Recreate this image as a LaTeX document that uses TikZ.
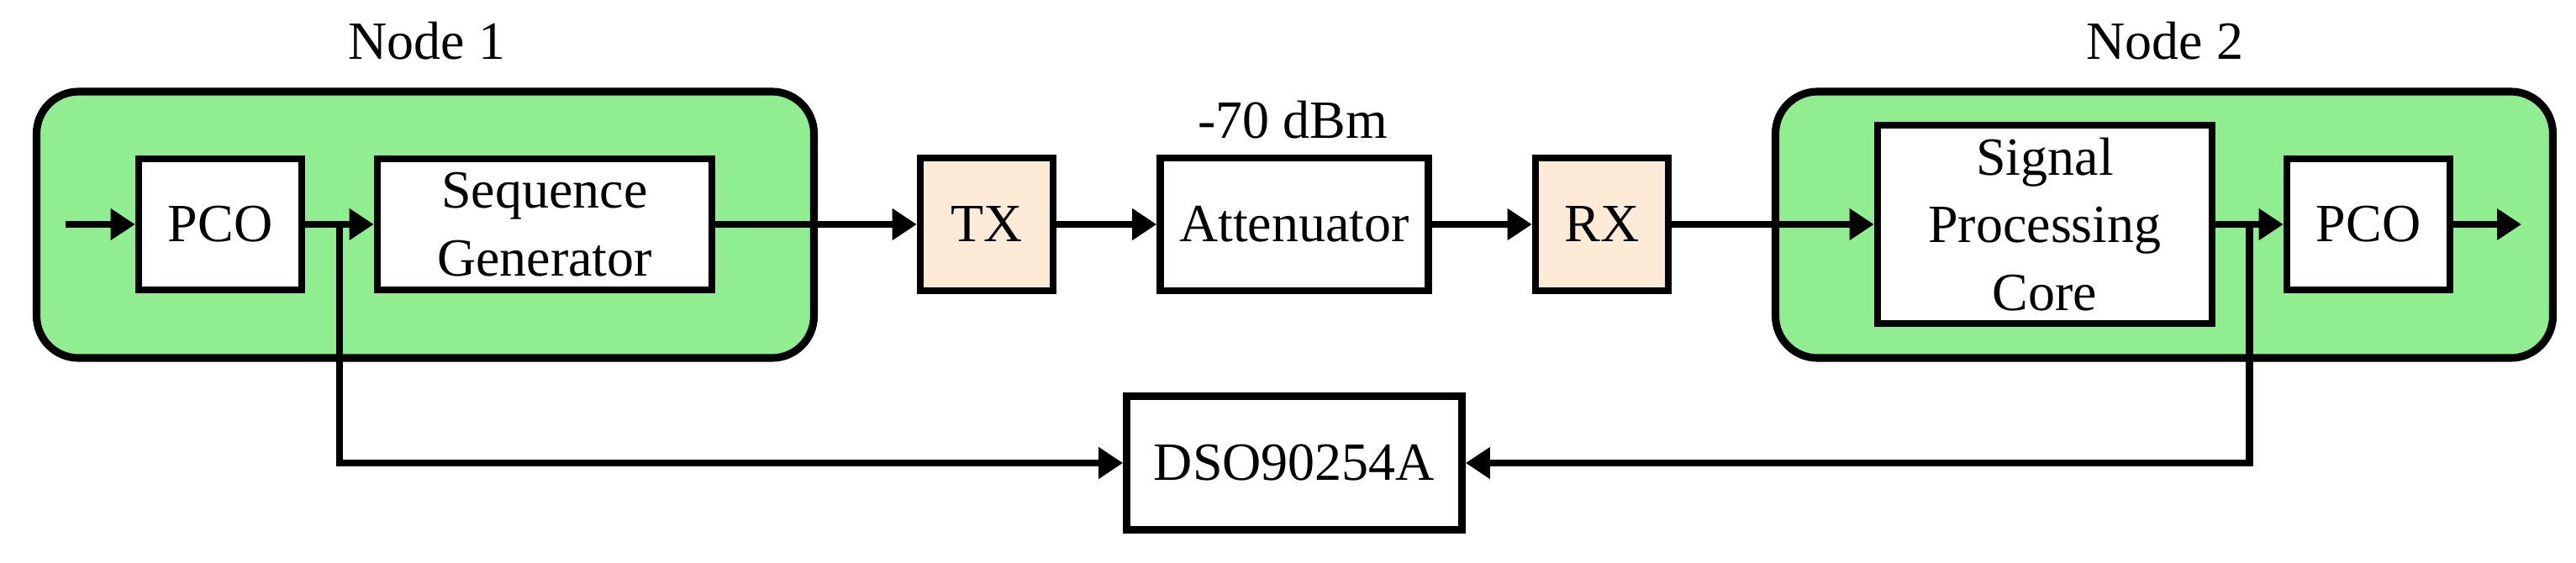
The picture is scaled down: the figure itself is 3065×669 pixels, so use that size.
\documentclass[tikz,border=0pt]{standalone}
\usepackage{fontspec}
\setmainfont{Liberation Serif}
\usetikzlibrary{arrows.meta,calc}
\definecolor{grpgreen}{HTML}{90EE90}
\definecolor{peach}{HTML}{FDEBD8}
\begin{document}
\begin{tikzpicture}[x=0.01cm,y=-0.01cm,
  every node/.style={font=\fontsize{18.2}{23}\selectfont},
  blk/.style={draw,line width=2.4pt,fill=white,align=center,inner sep=0pt},
  grpbox/.style={draw,line width=2.6pt,fill=grpgreen,rounded corners=0.5cm,inner sep=0pt},
  wire/.style={line width=2.5pt},
  conn/.style={wire,-{Triangle[length=0.29cm,width=0.36cm]}}]
\useasboundingbox (0,0) rectangle (3065,669);
% groups
\node[grpbox,minimum width=925*0.01cm,minimum height=317*0.01cm] (g1) at (506,267.5) {};
\node[grpbox,minimum width=925*0.01cm,minimum height=317*0.01cm] (g2) at (2575,267.5) {};
\node[anchor=base] (l1) at (508,70) {Node 1};
\node[anchor=base] (l2) at (2576,70) {Node 2};
\node[anchor=base] (l3) at (1538,164) {-70 dBm};
% blocks
\node[blk,minimum width=1.94cm,minimum height=1.56cm] (pco1) at (262,267) {PCO};
\node[blk,minimum width=3.98cm,minimum height=1.56cm] (seq) at (648,267) {Sequence\\Generator};
\node[blk,fill=peach,minimum width=1.58cm,minimum height=1.58cm] (tx) at (1174,267) {TX};
\node[blk,minimum width=3.19cm,minimum height=1.58cm] (att) at (1540,267) {Attenuator};
\node[blk,fill=peach,minimum width=1.58cm,minimum height=1.58cm] (rx) at (1906,267) {RX};
\node[blk,minimum width=3.98cm,minimum height=2.36cm] (spc) at (2433,267) {Signal\\Processing\\Core};
\node[blk,minimum width=1.94cm,minimum height=1.56cm] (pco2) at (2818,267) {PCO};
\node[blk,minimum width=3.99cm,minimum height=1.59cm] (dso) at (1540,551) {DSO90254A};
% connectors
\coordinate (in) at (78,267);
\coordinate (out) at (3000,267);
\coordinate (t1) at ($(pco1.east)!0.5!(seq.west)$);
\coordinate (t2) at ($(spc.east)!0.5!(pco2.west)$);
\draw[conn] (in) -- (pco1.west);
\draw[conn] (pco1.east) -- (seq.west);
\draw[conn] (seq.east) -- (tx.west);
\draw[conn] (tx.east) -- (att.west);
\draw[conn] (att.east) -- (rx.west);
\draw[conn] (rx.east) -- (spc.west);
\draw[conn] (spc.east) -- (pco2.west);
\draw[conn] (pco2.east) -- (out);
\draw[conn] (t1) |- (dso.west);
\draw[conn] (t2) |- (dso.east);
\end{tikzpicture}
\end{document}
